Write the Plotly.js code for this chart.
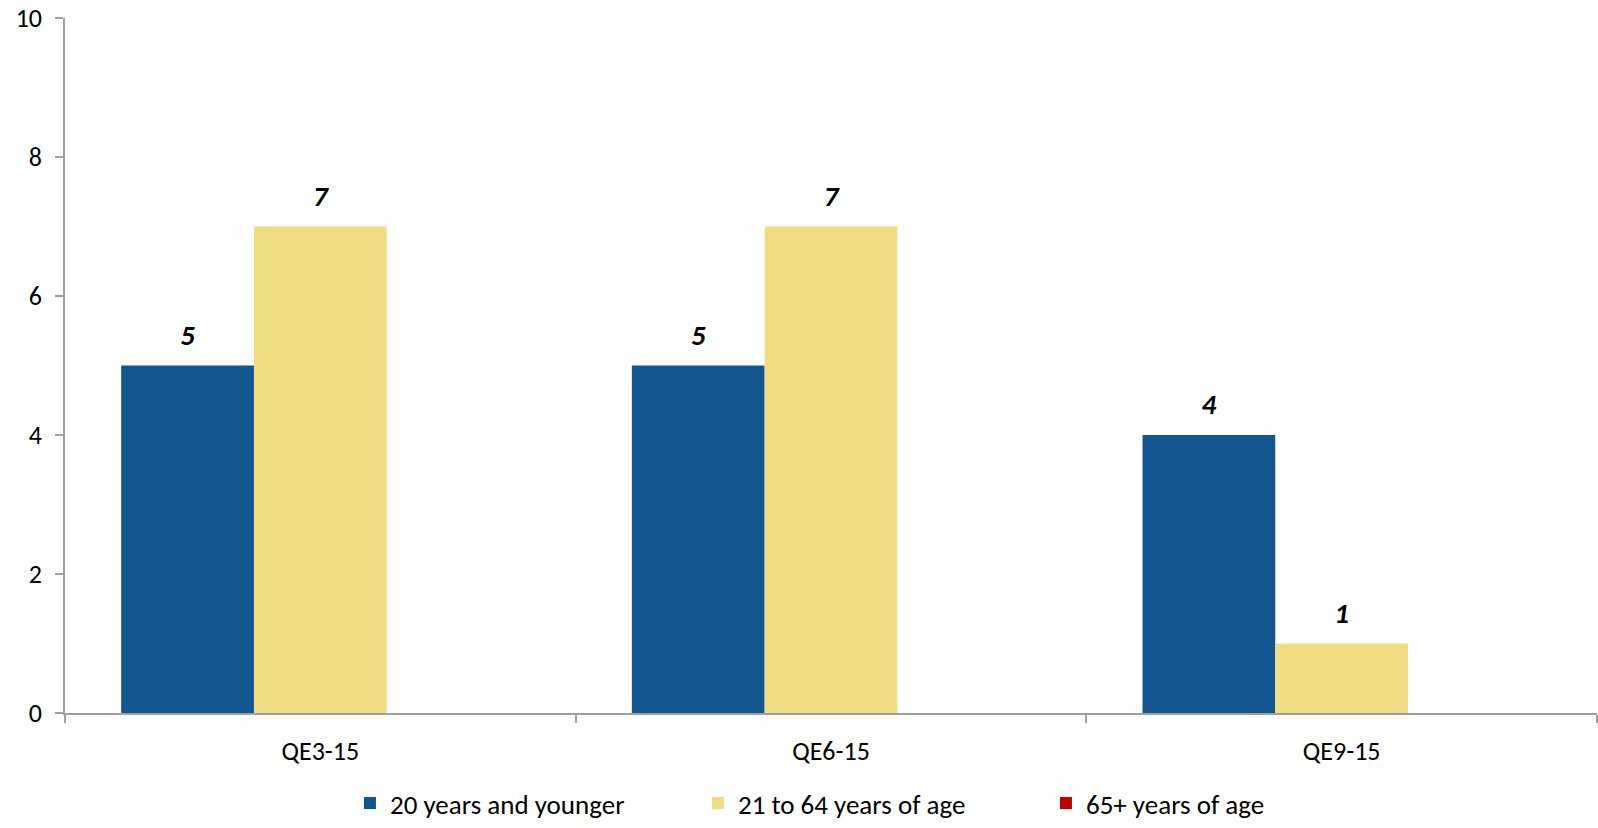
<!DOCTYPE html>
<html>
<head>
<meta charset="utf-8">
<script src="https://cdn.plot.ly/plotly-3.0.1.min.js"></script>
<style>
  html, body { margin: 0; padding: 0; background: #fff; }
  #chart { width: 1598px; height: 828px; }
</style>
</head>
<body>
<div id="chart"></div>
<script>
// Survey waves on the category axis
const categories = ["QE3-15", "QE6-15", "QE9-15"];

// Counts per age group
const seriesNames = ["20 years and younger", "21 to 64 years of age", "65+ years of age"];
const youngValues = [5, 5, 4];
const adultValues = [7, 7, 1];
const seniorValues = [0, 0, 0];

const yTicks = [0, 2, 4, 6, 8, 10];

const colors = ["#11568F", "#F0DC82", "#C00000"];
const FONT = 'Carlito, Calibri, Lato, "Open Sans", sans-serif';
const GAP = 0.22;

const series = [youngValues, adultValues, seniorValues];

// Bars, one trace per age group
const bars = series.map((vals, i) => ({
  type: "bar",
  name: seriesNames[i],
  x: categories,
  y: vals,
  marker: { color: colors[i], line: { width: 0 } },
  hoverinfo: "x+y+name"
}));

// Bold italic value labels, grouped the same way as the bars; an invisible
// marker keeps the text a little above the bar top. Zero values stay unlabelled.
const valueLabels = series.map((vals, i) => ({
  type: "scatter",
  mode: "markers+text",
  orientation: "v",
  x: categories,
  y: vals,
  text: vals.map(v => v === 0 ? "" : "<b><i>" + v + "</i></b>"),
  textposition: "top center",
  textfont: { family: FONT, size: 29, color: "#000" },
  marker: { size: 20, opacity: 0, color: colors[i] },
  cliponaxis: false,
  showlegend: false,
  hoverinfo: "skip"
}));

const layout = {
  width: 1598,
  height: 828,
  margin: { l: 65, r: 1, t: 18, b: 115, autoexpand: false },
  paper_bgcolor: "#fff",
  plot_bgcolor: "#fff",
  font: { family: FONT, size: 26, color: "#000" },
  barmode: "group",
  bargap: GAP,
  bargroupgap: 0,
  scattermode: "group",
  scattergap: GAP,
  showlegend: true,
  legend: {
    orientation: "h",
    x: 0.186, xanchor: "left",
    yref: "container",
    y: -0.008, yanchor: "bottom",
    font: { family: FONT, size: 27, color: "#000" },
    entrywidth: 303,
    itemwidth: 30,
    traceorder: "normal"
  },
  xaxis: {
    type: "category",
    showline: true,
    linecolor: "#A0A0A0",
    linewidth: 1.5,
    ticks: "outside",
    tickson: "boundaries",
    ticklen: 8,
    tickcolor: "#A0A0A0",
    tickwidth: 1.5,
    showgrid: false,
    ticklabelstandoff: 14,
    tickfont: { family: FONT, size: 26, color: "#000" },
    fixedrange: true
  },
  yaxis: {
    range: [0, 10],
    tickvals: yTicks,
    showline: true,
    linecolor: "#A0A0A0",
    linewidth: 1.5,
    ticks: "outside",
    ticklen: 8,
    tickcolor: "#A0A0A0",
    tickwidth: 1.5,
    showgrid: false,
    zeroline: false,
    ticklabelstandoff: 8,
    tickfont: { family: FONT, size: 26, color: "#000" },
    fixedrange: true
  }
};

Plotly.newPlot("chart", bars.concat(valueLabels), layout, { displayModeBar: false });
</script>
</body>
</html>
